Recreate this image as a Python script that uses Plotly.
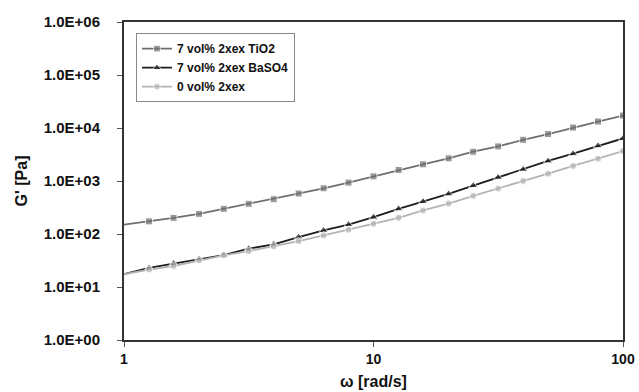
import plotly.graph_objects as go

omega = [1.0, 1.26, 1.58, 2.0, 2.51, 3.16, 3.98, 5.01, 6.31, 7.94,
         10.0, 12.6, 15.8, 20.0, 25.1, 31.6, 39.8, 50.1, 63.1, 79.4, 100.0]

tio2 = [150, 173, 202, 240, 299, 371, 453, 580, 729, 933,
        1225, 1618, 2061, 2672, 3570, 4490, 6000, 7680, 10200, 13250, 17200]
baso4 = [17.4, 22.9, 27.7, 33.7, 40.1, 52.9, 63.8, 87.4, 117, 151,
         208, 299, 410, 572, 820, 1175, 1660, 2390, 3270, 4630, 6350]
neat = [17.4, 21.3, 24.9, 31.9, 39.6, 47.7, 58.5, 73.5, 94.1, 120.5,
        156, 202, 278, 376, 525, 719, 1005, 1377, 1923, 2636, 3680]

names = ["7 vol% 2xex TiO2", "7 vol% 2xex BaSO4", "0 vol% 2xex"]
y_ticks = [1, 10, 100, 1e3, 1e4, 1e5, 1e6]
y_ticktext = ["1.0E+00", "1.0E+01", "1.0E+02", "1.0E+03", "1.0E+04", "1.0E+05", "1.0E+06"]
x_ticks = [1, 10, 100]
x_ticktext = ["1", "10", "100"]

fig = go.Figure()
styles = [
    (tio2, "#6e6e6e", "square", 7),
    (baso4, "#1c1c1c", "triangle-up", 8),
    (neat, "#b4b4b4", "circle", 7),
]
for i, ((vals, col, sym, ms), nm) in enumerate(zip(styles, names)):
    fig.add_trace(go.Scatter(
        x=omega, y=vals, name="<b>" + nm + "</b>", mode="lines+markers",
        legendgroup="g%d" % i,
        line=dict(color=col, width=1.8),
        marker=dict(symbol=sym, color=col, size=[0] + [ms] * (len(omega) - 1)),
        cliponaxis=True,
    ))

font_fam = "Liberation Sans, Arial, sans-serif"
fig.update_layout(
    width=639, height=392,
    margin=dict(l=124, r=16, t=22, b=52, autoexpand=False),
    paper_bgcolor="white", plot_bgcolor="white",
    font=dict(family=font_fam, color="#111111"),
    showlegend=True,
    legend=dict(
        x=0.024, y=0.965, xanchor="left", yanchor="top",
        bgcolor="white", bordercolor="#888888", borderwidth=1,
        font=dict(size=12, family=font_fam, color="#111111"),
        itemwidth=30, tracegroupgap=3, traceorder="normal",
    ),
    xaxis=dict(
        type="log", range=[0, 2], automargin=False,
        tickvals=x_ticks, ticktext=["<b>" + t + "</b>" for t in x_ticktext],
        ticks="outside", ticklen=5, tickcolor="#555555",
        showline=True, linecolor="#333333", linewidth=2, mirror=True,
        showgrid=False, zeroline=False,
        tickfont=dict(size=14),
        title=dict(text="<b>ω [rad/s]</b>", font=dict(size=16), standoff=10),
    ),
    yaxis=dict(
        type="log", range=[0, 6], automargin=False,
        tickvals=y_ticks, ticktext=["<b>" + t + "</b>" for t in y_ticktext],
        ticks="outside", ticklen=5, tickcolor="#555555",
        ticklabelstandoff=14,
        showline=True, linecolor="#333333", linewidth=2, mirror=True,
        showgrid=False, zeroline=False,
        tickfont=dict(size=15),
        title=dict(text="<b>G' [Pa]</b>", font=dict(size=16), standoff=12),
    ),
)

fig.write_html("out.html")
